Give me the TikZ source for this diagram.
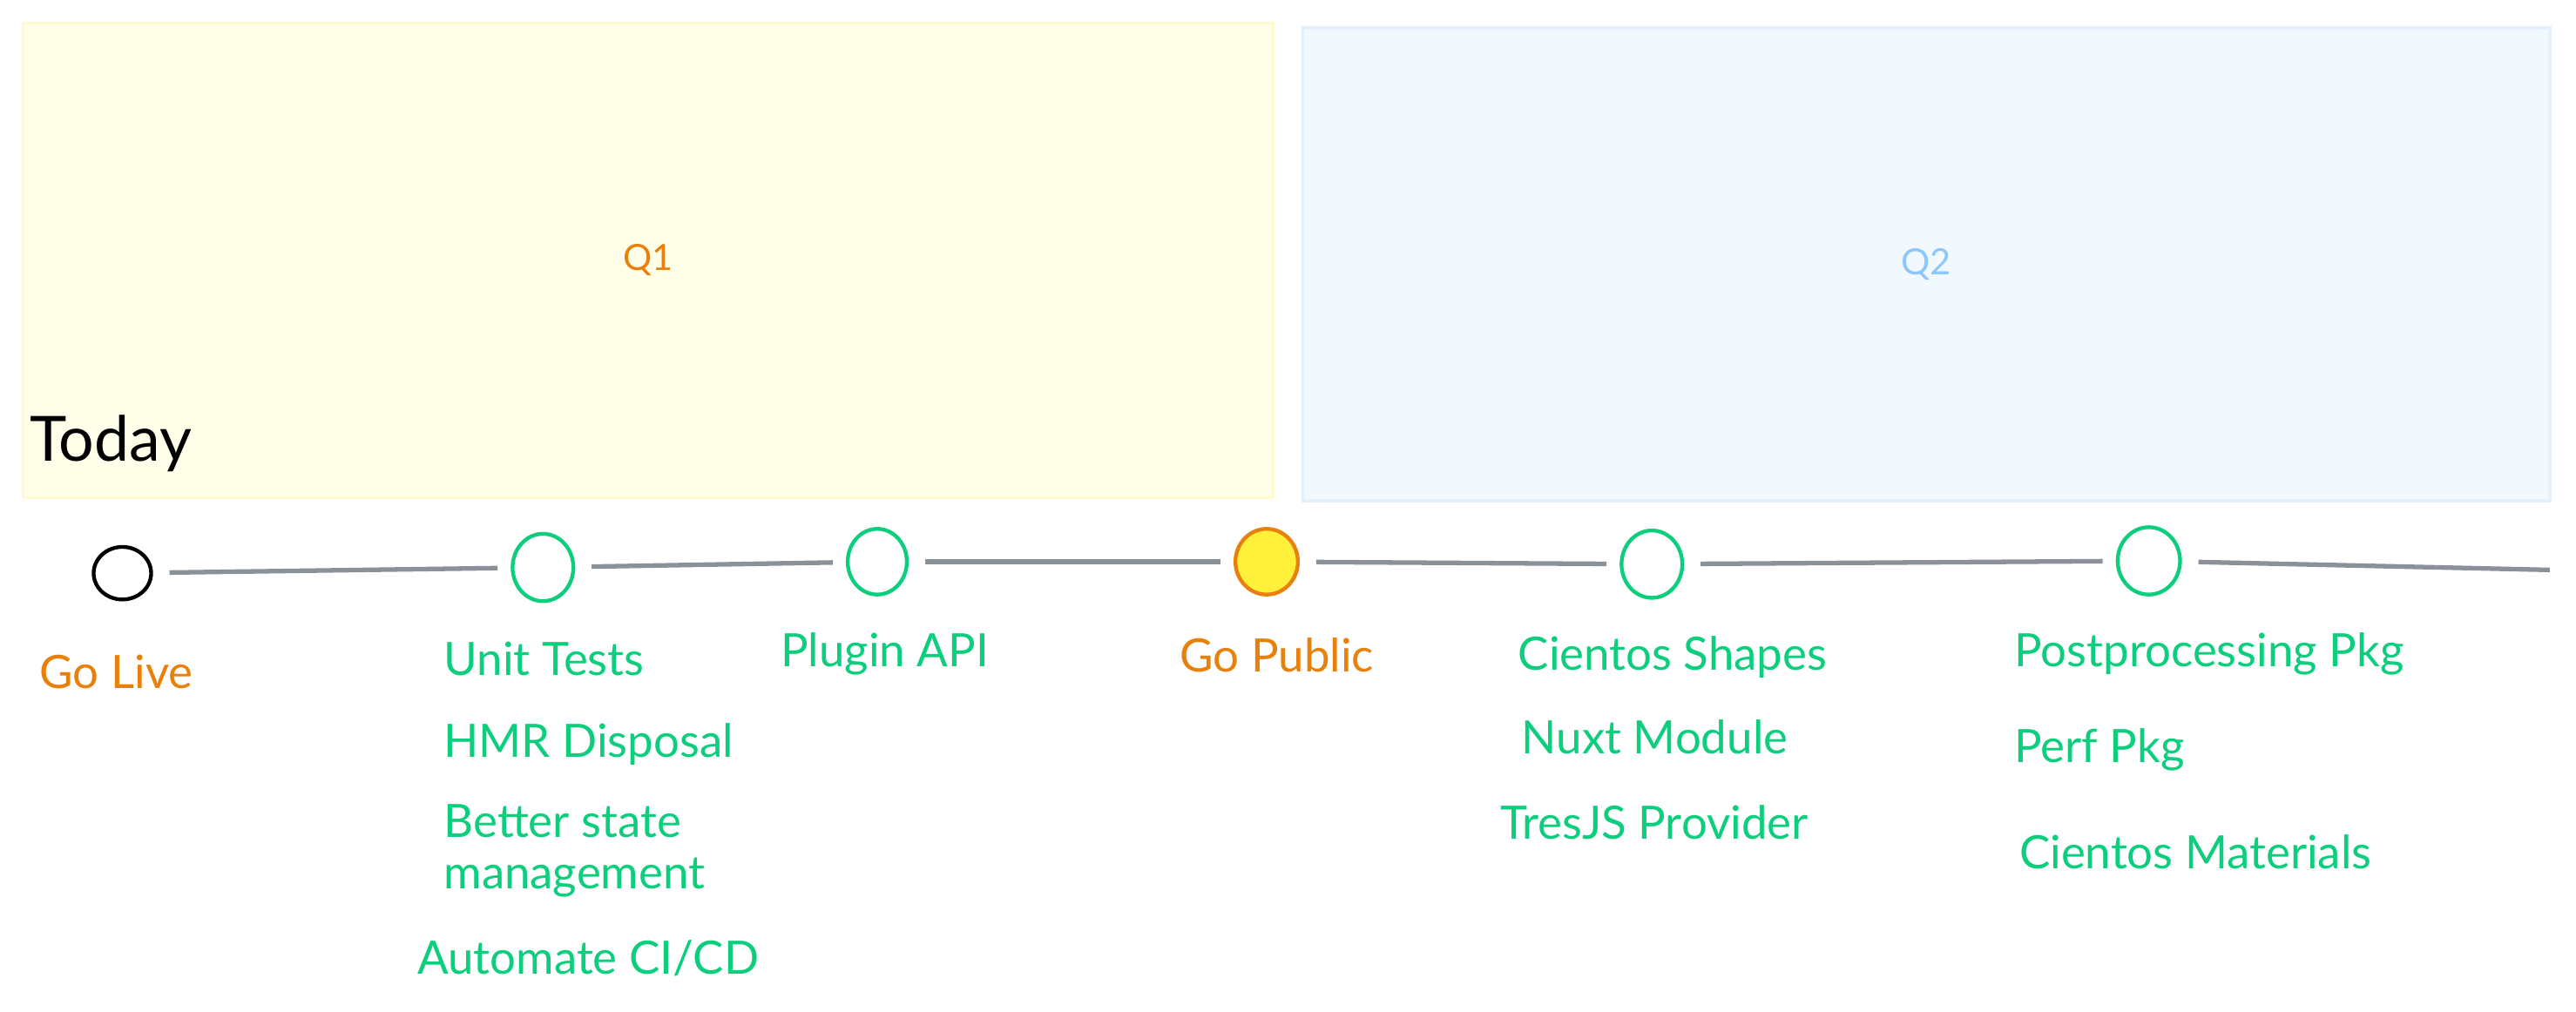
\documentclass[tikz,border=0pt]{standalone}
\usepackage{fontspec}
\setmainfont{Lato}
\usetikzlibrary{shapes.geometric}
\definecolor{grn}{HTML}{0CCE7C}
\definecolor{org}{HTML}{E8810C}
\definecolor{qblue}{HTML}{8CC8FC}
\definecolor{lgray}{HTML}{8A9199}
\definecolor{yfill}{HTML}{FFFEE9}
\definecolor{yline}{HTML}{FFF9CF}
\definecolor{bfill}{HTML}{F1F8FE}
\definecolor{bline}{HTML}{E4F1FD}
\definecolor{dotfill}{HTML}{FFF03A}
\begin{document}
\begin{tikzpicture}[x=1pt,y=-1pt,
  quarter/.style={draw, line width=2pt, inner sep=0pt, font=\fontsize{22}{24}\selectfont},
  ms/.style={ellipse, draw, line width=2.3pt, inner sep=0pt},
  item/.style={anchor=base west, inner sep=0pt, text=grn, font=\fontsize{28}{32}\selectfont},
  tl/.style={draw=lgray, line width=2.8pt, shorten <=10pt, shorten >=8pt}]
\useasboundingbox[fill=white] (0,0) rectangle (1568,616);

% quarter boxes
\node[quarter, draw=yline, fill=yfill, text=org, minimum width=761pt, minimum height=289pt] (q1) at (394.5,158.5) {Q1};
\node[quarter, draw=bline, fill=bfill, text=qblue, minimum width=759pt, minimum height=288pt] (q2) at (1172.5,161) {Q2};

\node[anchor=base west, inner sep=0pt, font=\fontsize{38}{42}\selectfont] (today) at (18,281) {Today};

% milestones
\node[ms, draw=black, minimum width=35pt, minimum height=32pt] (m0) at (74.5,349) {};
\node[ms, draw=grn, minimum width=37pt, minimum height=41pt] (m1) at (330.5,345.5) {};
\node[ms, draw=grn, minimum width=36pt, minimum height=40pt] (m2) at (534,342) {};
\node[ms, draw=org, fill=dotfill, minimum width=38pt, minimum height=40pt] (m3) at (771,342) {};
\node[ms, draw=grn, minimum width=37pt, minimum height=41pt] (m4) at (1005.5,343.5) {};
\node[ms, draw=grn, minimum width=38pt, minimum height=41pt] (m5) at (1308,341.5) {};
\coordinate (tend) at (1552,347);

% timeline
\draw[tl] (m0) -- (m1);
\draw[tl] (m1) -- (m2);
\draw[tl] (m2) -- (m3);
\draw[tl] (m3) -- (m4);
\draw[tl] (m4) -- (m5);
\draw[tl, shorten >=0pt] (m5) -- (tend);

% labels
\node[item, text=org] (golive) at (24,419) {Go Live};
\node[item] (unit) at (270,411) {Unit Tests};
\node[item] (hmr) at (270,461) {HMR Disposal};
\node[item] (better) at (270,510) {Better state};
\node[item] (mgmt) at (270,541) {management};
\node[item] (ci) at (254,593) {Automate CI/CD};
\node[item] (plugin) at (475,406) {Plugin API};
\node[item, text=org] (gopub) at (718,409) {Go Public};
\node[item] (shapes) at (924,408) {Cientos Shapes};
\node[item] (nuxt) at (926,459) {Nuxt Module};
\node[item] (tres) at (913,511) {TresJS Provider};
\node[item] (post) at (1226,406) {Postprocessing Pkg};
\node[item] (perf) at (1226,464) {Perf Pkg};
\node[item] (mat) at (1229,529) {Cientos Materials};
\end{tikzpicture}
\end{document}
